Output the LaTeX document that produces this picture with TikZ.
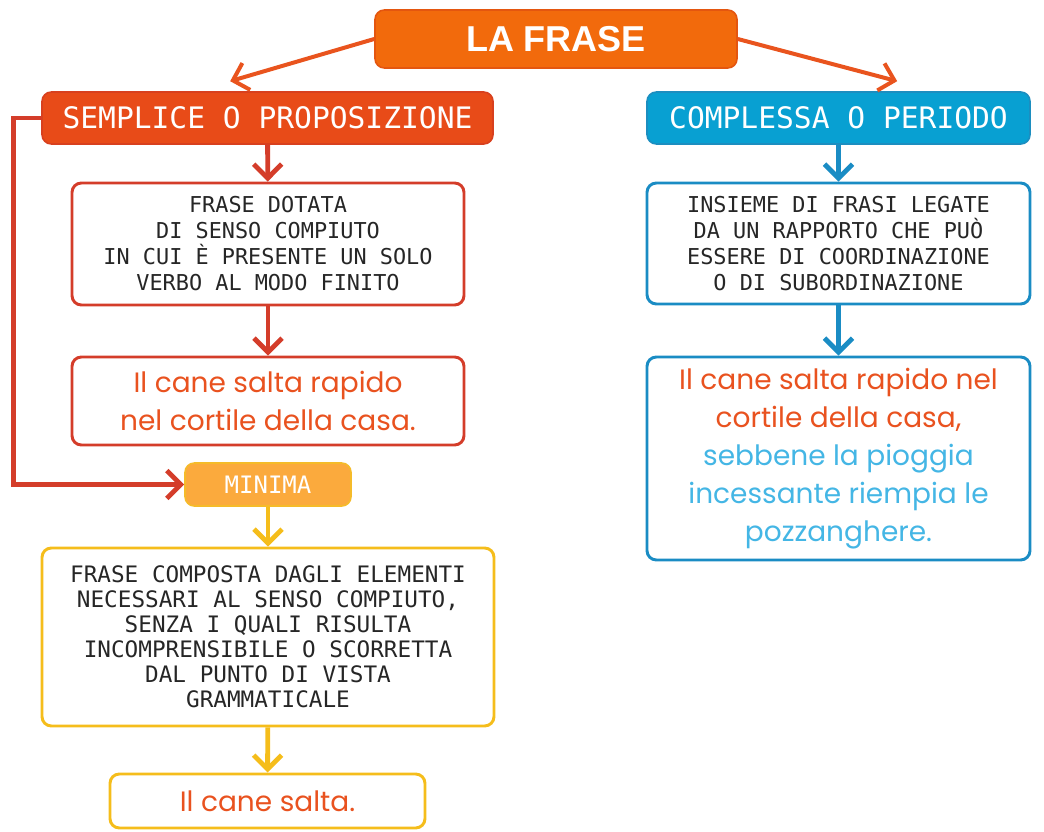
\documentclass[tikz,border=0pt]{standalone}
\usepackage{fontspec}
\setmainfont{Liberation Sans}
\newfontfamily\labelfont{DejaVu Sans Mono}
\newfontfamily\handfont{Poppins}
\usetikzlibrary{arrows.meta}
\definecolor{frasecol}{HTML}{F26A0C}
\definecolor{frasedark}{HTML}{E4560F}
\definecolor{semplicecol}{HTML}{E84B18}
\definecolor{sempliceedge}{HTML}{D8401E}
\definecolor{complessacol}{HTML}{08A0D2}
\definecolor{complessaedge}{HTML}{1C8EC0}
\definecolor{minimacol}{HTML}{FBAA3D}
\definecolor{minimaedge}{HTML}{F5BB2A}
\definecolor{redcol}{HTML}{D43D2A}
\definecolor{bluecol}{HTML}{1A8CC4}
\definecolor{yellowcol}{HTML}{F5BD1B}
\definecolor{toparrcol}{HTML}{E9541E}
\definecolor{handred}{HTML}{E9521F}
\definecolor{handblue}{HTML}{44B6E5}
\definecolor{textcol}{HTML}{262626}
\tikzset{
  headbox/.style={draw, rounded corners=7pt, line width=1.2pt, text=white,
    inner sep=0pt, font=\labelfont\fontsize{22.2}{26}\selectfont},
  defbox/.style={draw, fill=white, rounded corners=7pt, line width=2.2pt,
    inner sep=0pt, align=center, text=textcol,
    font=\labelfont\fontsize{16.4}{19.5}\selectfont},
  exbox/.style={defbox, text=handred, font=\handfont\fontsize{21}{29}\selectfont},
  arr/.style={line width=3.6pt, -{Straight Barb[length=10.5pt,width=21pt]}},
  toparr/.style={arr, line width=3pt, toparrcol}
}
\begin{document}
\begin{tikzpicture}[x=0.75pt,y=-0.75pt]
  \useasboundingbox (0,0) rectangle (1044,831);
  \node[headbox, fill=frasecol, draw=frasedark, minimum width=271.5pt, minimum height=43.5pt,
    font=\bfseries\fontsize{27}{30}\selectfont] (frase) at (556,39) {LA FRASE};
  \node[headbox, fill=semplicecol, draw=sempliceedge, minimum width=338.25pt, minimum height=39pt]
    (semplice) at (267.5,118) {SEMPLICE O PROPOSIZIONE};
  \node[headbox, fill=complessacol, draw=complessaedge, minimum width=287.25pt, minimum height=39pt]
    (complessa) at (838.5,118) {COMPLESSA O PERIODO};
  \node[defbox, draw=redcol, minimum width=294pt, minimum height=91.5pt] (defs) at (268,244)
    {FRASE DOTATA\\DI SENSO COMPIUTO\\IN CUI È PRESENTE UN SOLO\\VERBO AL MODO FINITO};
  \node[exbox, draw=redcol, minimum width=294pt, minimum height=66pt] (exs) at (268,401)
    {Il cane salta rapido\\nel cortile della casa.};
  \node[headbox, fill=minimacol, draw=minimaedge, minimum width=124.5pt, minimum height=32.25pt,
    font=\labelfont\fontsize{18}{20}\selectfont] (minima) at (268,484.5) {MINIMA};
  \node[defbox, draw=yellowcol, minimum width=339pt, minimum height=133.5pt,
    font=\labelfont\fontsize{17}{18.75}\selectfont] (defm) at (268,637)
    {FRASE COMPOSTA DAGLI ELEMENTI\\NECESSARI AL SENSO COMPIUTO,\\SENZA I QUALI RISULTA\\
     INCOMPRENSIBILE O SCORRETTA\\DAL PUNTO DI VISTA\\GRAMMATICALE};
  \node[exbox, draw=yellowcol, minimum width=236.25pt, minimum height=40.5pt] (exm) at (267.5,801)
    {Il cane salta.};
  \node[defbox, draw=bluecol, minimum width=287.25pt, minimum height=90.75pt] (defc) at (838.5,243.5)
    {INSIEME DI FRASI LEGATE\\DA UN RAPPORTO CHE PUÒ\\ESSERE DI COORDINAZIONE\\O DI SUBORDINAZIONE};
  \node[exbox, draw=bluecol, minimum width=287.25pt, minimum height=152.25pt,
    font=\handfont\fontsize{21}{28.5}\selectfont] (exc) at (838.5,458.5)
    {Il cane salta rapido nel\\cortile della casa,\\\textcolor{handblue}{sebbene la pioggia}\\
     \textcolor{handblue}{incessante riempia le}\\\textcolor{handblue}{pozzanghere.}};
  \draw[toparr] (frase.west) -- ([xshift=-28pt,yshift=7.5pt]semplice.north);
  \draw[toparr] (frase.east) -- ([xshift=44pt,yshift=7.5pt]complessa.north);
  \begin{scope}[redcol]
    \draw[arr] (semplice) -- (defs);
    \draw[arr] (defs) -- (exs);
    \draw[arr] (semplice.west) -- ++(-28,0) |- (minima.west);
  \end{scope}
  \begin{scope}[yellowcol]
    \draw[arr] (minima) -- (defm);
    \draw[arr] (defm) -- (exm);
  \end{scope}
  \begin{scope}[bluecol]
    \draw[arr] (complessa) -- (defc);
    \draw[arr] (defc) -- (exc);
  \end{scope}
\end{tikzpicture}
\end{document}
